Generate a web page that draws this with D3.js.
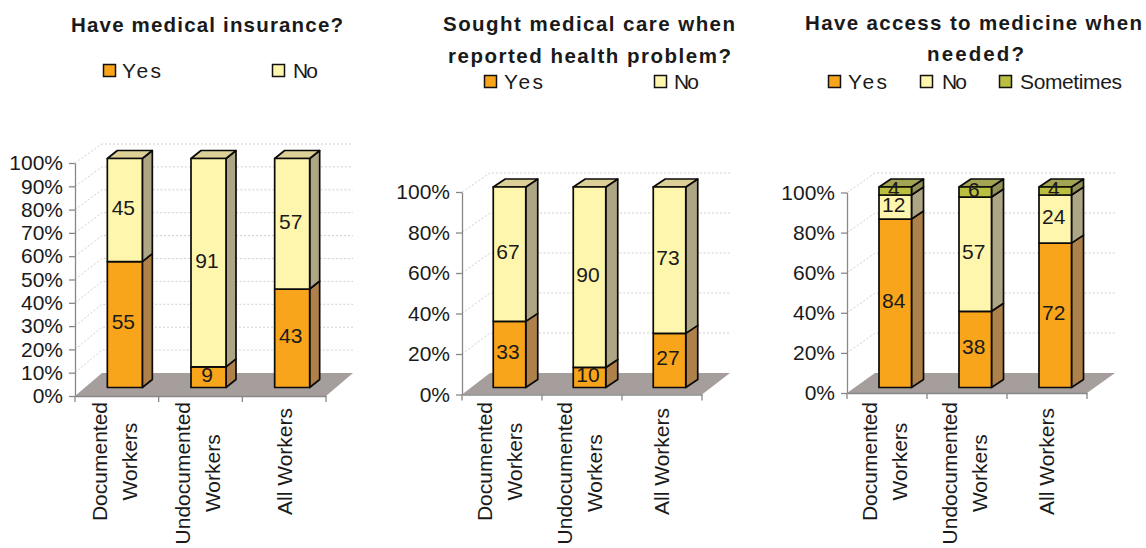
<!DOCTYPE html>
<html><head><meta charset="utf-8">
<script src="https://cdn.jsdelivr.net/npm/d3@7"></script>
<style>
html,body{margin:0;padding:0;background:#fff}
svg{display:block}
text{font-family:"Liberation Sans",Arial,sans-serif;fill:#1a1a1a}
</style></head><body>
<svg id="c" width="1146" height="548"></svg>
<script>
const categories = ["Documented Workers","Undocumented Workers","All Workers"];
const seriesNames = ["Yes","No","Sometimes"];
const insuranceYes = [55,9,43];
const insuranceNo = [45,91,57];
const careYes = [33,10,27];
const careNo = [67,90,73];
const medicineYes = [84,38,72];
const medicineNo = [12,57,24];
const medicineSometimes = [4,6,4];
const ticksEvery10 = d3.range(0,101,10);
const ticksEvery20 = d3.range(0,101,20);

const fills = {Yes:{f:"#F9A51B",s:"#AE804A",t:"#C9A24A"},No:{f:"#FFF6AE",s:"#AEA585",t:"#DDD096"},Sometimes:{f:"#BABF3F",s:"#8F9055",t:"#A3A552"}};
const legendWidths = {Yes:39,No:25,Sometimes:102};

const panels = [
 {title:[["Have medical insurance?",71,343,25]], series:[insuranceYes,insuranceNo], names:["Yes","No"], ticks:ticksEvery10,
  x0:75,x1:326,y0:396,y100:163,backY0:373,backY100:144,dx:27,barW:35,barBottom:387.5,barTop:158.5,barDx:10,barDy:8,barOffset:8,
  legend:[[103,122],[272,293]],legendY:71},
 {title:[["Sought medical care when",443,735,24],["reported health problem?",448,731,56]], series:[careYes,careNo], names:["Yes","No"], ticks:ticksEvery20,
  x0:462,x1:702,y0:394.5,y100:192,backY0:373,backY100:173,dx:28,barW:32.5,barBottom:387.5,barTop:187,barDx:12,barDy:8,barOffset:7.5,
  legend:[[484,504],[654,674]],legendY:82},
 {title:[["Have access to medicine when",805,1142,23],["needed?",927,1024,54]], series:[medicineYes,medicineNo,medicineSometimes], names:["Yes","No","Sometimes"], ticks:ticksEvery20,
  x0:847,x1:1087,y0:393,y100:192.5,backY0:373,backY100:173,dx:28,barW:32.5,barBottom:387.5,barTop:187,barDx:12,barDy:8,barOffset:8.25,
  legend:[[828,848],[920,942],[999,1020]],legendY:82}
];

const svg = d3.select("#c");
const FS = 21;

panels.forEach(p=>{
  const g = svg.append("g");
  p.title.forEach(([t,a,b,y])=>{
    g.append("text").text(t).attr("x",a).attr("y",y).attr("dy","0.35em")
     .attr("font-size",20.5).attr("font-weight","bold")
     .attr("textLength",b-a).attr("lengthAdjust","spacing");
  });
  p.names.forEach((n,i)=>{
    const [sx,tx]=p.legend[i];
    g.append("rect").attr("x",sx+0.5).attr("y",p.legendY-6.5).attr("width",12).attr("height",12)
     .attr("fill",fills[n].f).attr("stroke","#111").attr("stroke-width",1.5);
    g.append("text").text(n).attr("x",tx).attr("y",p.legendY).attr("dy","0.35em").attr("font-size",FS)
     .attr("textLength",legendWidths[n]).attr("lengthAdjust","spacing");
  });

  const xBand = d3.scaleBand().domain(categories).range([p.x0,p.x1]);
  const yFront = d3.scaleLinear().domain([0,100]).range([p.y0,p.y100]);
  const yBack = d3.scaleLinear().domain([0,100]).range([p.backY0,p.backY100]);
  const yBar = d3.scaleLinear().domain([0,100]).range([p.barBottom,p.barTop]).clamp(true);

  g.append("polygon").attr("fill","#A69E9C").attr("points",[
    [p.x0,p.y0],[p.x1,p.y0],[p.x1+p.dx,p.backY0],[p.x0+p.dx,p.backY0]].join(" "));

  p.ticks.slice(1).forEach(v=>{
    g.append("polyline").attr("fill","none").attr("stroke","#cfcfcf").attr("stroke-width",1).attr("stroke-dasharray","2,2")
     .attr("points",[[p.x0,yFront(v)],[p.x0+p.dx,yBack(v)],[p.x1+p.dx,yBack(v)]].join(" "));
  });

  const yAxis = d3.axisLeft(yFront).tickValues(p.ticks).tickFormat(d=>d+"%").tickSize(6).tickPadding(6).tickSizeOuter(0);
  const ya = g.append("g").attr("transform",`translate(${p.x0},0)`).call(yAxis);
  ya.selectAll("path,line").attr("stroke","#888").attr("stroke-width",1.3);
  ya.selectAll("text").attr("font-size",FS).attr("fill","#1a1a1a").attr("font-family",'"Liberation Sans",Arial,sans-serif');
  const xAxis = d3.axisBottom(xBand).tickValues([]).tickSizeOuter(0);
  const xa = g.append("g").attr("transform",`translate(0,${p.y0})`).call(xAxis);
  xa.select("path").attr("stroke","#888").attr("stroke-width",1.3);
  categories.forEach((c,i)=>{
    g.append("line").attr("x1",xBand(c)).attr("x2",xBand(c)).attr("y1",p.y0).attr("y2",p.y0+6).attr("stroke","#888").attr("stroke-width",1.3);
    if(i===categories.length-1) g.append("line").attr("x1",p.x1).attr("x2",p.x1).attr("y1",p.y0).attr("y2",p.y0+6).attr("stroke","#888").attr("stroke-width",1.3);
  });

  categories.forEach(c=>{
    const cx = xBand(c)+xBand.bandwidth()/2;
    const lines = c==="All Workers" ? [c] : c.split(" ");
    const lab = g.append("g");
    const ts = lines.map((l,j)=>{
      const off = lines.length===1 ? 0 : (j===0?-17.5:12.5);
      return lab.append("text").text(l).attr("font-size",FS).attr("text-anchor","middle")
        .attr("dy","0.35em").attr("data-x",cx+off);
    });
    const maxLen = d3.max(ts,t=>t.node().getComputedTextLength());
    const cy = 402 + maxLen/2 + (lines.length===1?6:0);
    ts.forEach(t=>t.attr("transform",`translate(${+t.attr("data-x")},${cy}) rotate(-90)`));
  });

  const stackData = categories.map((c,i)=>{
    const o={cat:c}; p.names.forEach((n,k)=>o[n]=p.series[k][i]); return o;
  });
  const stacked = d3.stack().keys(p.names)(stackData);
  const last = stacked.length-1;
  const barLeft = c => xBand(c)+xBand.bandwidth()/2+p.barOffset-p.barW/2;
  stacked.forEach((layer,li)=>{
    const n = layer.key, col = fills[n];
    layer.forEach((d,i)=>{
      const c = categories[i];
      const bx = barLeft(c);
      const yb = yBar(d[0]), yt = yBar(d[1]);
      const bar = g.append("g").attr("stroke","#0a0a0a").attr("stroke-width",1.7).attr("stroke-linejoin","round");
      bar.append("polygon").attr("fill",col.s).attr("points",[
        [bx+p.barW,yb],[bx+p.barW+p.barDx,yb-p.barDy],[bx+p.barW+p.barDx,yt-p.barDy],[bx+p.barW,yt]].join(" "));
      if(li===last) bar.append("polygon").attr("fill",col.t).attr("points",[
        [bx,yt],[bx+p.barDx,yt-p.barDy],[bx+p.barW+p.barDx,yt-p.barDy],[bx+p.barW,yt]].join(" "));
      bar.append("rect").attr("x",bx).attr("y",yt).attr("width",p.barW).attr("height",yb-yt).attr("fill",col.f);
    });
  });
  stacked.forEach(layer=>{
    layer.forEach((d,i)=>{
      const c = categories[i];
      g.append("text").text(d.data[layer.key])
       .attr("x",barLeft(c)+p.barW/2-1.5).attr("y",(yBar(d[0])+yBar(d[1]))/2-2.5)
       .attr("dy","0.35em").attr("text-anchor","middle").attr("font-size",FS);
    });
  });
});
</script>
</body></html>
